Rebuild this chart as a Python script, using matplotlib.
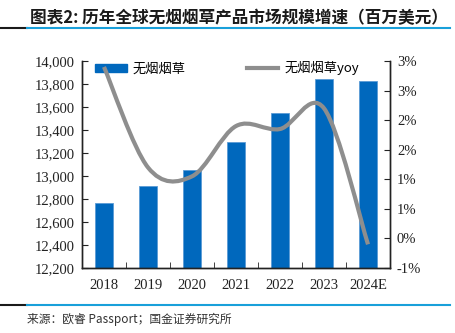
import numpy as np
import matplotlib
matplotlib.use('AGG')
import matplotlib.pyplot as plt
from matplotlib.path import Path
from matplotlib.patches import PathPatch
from matplotlib.lines import Line2D

# 无烟烟草市场规模（百万美元）及增速
years = ['2018', '2019', '2020', '2021', '2022', '2023', '2024E']
market = [12768, 12913, 13052, 13293, 13545, 13841, 13829]
yoy = [2.9, 1.2, 1.05, 1.9, 1.85, 2.2, -0.1]
left_ticks = [12200, 12400, 12600, 12800, 13000, 13200, 13400, 13600, 13800, 14000]
right_ticks = [-0.5, 0.0, 0.5, 1.0, 1.5, 2.0, 2.5, 3.0]
right_labels = ['-1%', '0%', '1%', '1%', '2%', '2%', '3%', '3%']

cjk = ['Noto Sans CJK SC', 'DejaVu Sans']
serif = 'Liberation Serif'
blue = '#0068BD'
gray = '#8E8E8E'

fig = plt.figure(figsize=(4.56, 3.33), dpi=100)
ax = fig.add_axes([82/456, 65/333, 308/456, 207/333])
ax2 = ax.twinx()

x = np.arange(len(years))
ax.bar(x, market, width=0.4, color=blue, edgecolor='#5B9BD5', linewidth=0.6, zorder=2)
ax.set_xlim(-0.5, len(years) - 0.5)
ax.set_ylim(12200, 14000)
ax.set_yticks(left_ticks)
ax.set_yticklabels([f'{v:,}' for v in left_ticks])
ax.set_xticks(x)
ax.set_xticklabels(years)
ax.set_xticks(x[:-1] + 0.5, minor=True)

# smoothed yoy line (cubic bezier through every point)
pts = np.column_stack([x, yoy]).astype(float)
ext = np.vstack([pts[0], pts, pts[-1]])
verts = [tuple(pts[0])]
codes = [Path.MOVETO]
for i in range(len(pts) - 1):
    p0, p1, p2, p3 = ext[i], ext[i + 1], ext[i + 2], ext[i + 3]
    c1 = p1 + (p2 - p0) / 6
    c2 = p2 - (p3 - p1) / 6
    verts += [tuple(c1), tuple(c2), tuple(p2)]
    codes += [Path.CURVE4] * 3
ax2.add_patch(PathPatch(Path(verts, codes), facecolor='none', edgecolor=gray,
                        linewidth=3, capstyle='butt', zorder=3))
ax2.set_ylim(-0.5, 3.0)
ax2.set_yticks(right_ticks)
ax2.set_yticklabels(right_labels)

for a in (ax, ax2):
    a.spines['top'].set_visible(False)
    for s in ('left', 'right', 'bottom'):
        a.spines[s].set_color('#222222')
        a.spines[s].set_linewidth(1.0)
    for lab in a.get_xticklabels() + a.get_yticklabels():
        lab.set_fontfamily(serif)
        lab.set_fontsize(10.5)
        lab.set_color('#222222')
ax.tick_params(axis='y', direction='in', length=4, pad=5, colors='#222222')
ax2.tick_params(axis='y', direction='in', length=4, pad=5, colors='#222222')
ax.tick_params(axis='x', which='major', length=0, pad=8)
ax.tick_params(axis='x', which='minor', direction='in', length=4, color='#222222')

# legend
handles = [plt.Rectangle((0, 0), 1, 1, color=blue),
           Line2D([0], [0], color=gray, lw=3)]
leg = ax.legend(handles, ['无烟烟草', '无烟烟草yoy'], loc='upper left',
                bbox_to_anchor=(0.005, 1.055), ncol=2, frameon=False,
                columnspacing=4.6, handlelength=2.4, handleheight=0.5,
                handletextpad=0.45, prop={'family': cjk, 'size': 9.5})

# title, rules and source
fig.text(30/456, 1 - 18/333, '图表2: 历年全球无烟烟草产品市场规模增速（百万美元）',
         family=cjk, fontsize=12.0, fontweight='bold', color='#1A1A1A', va='center')
fig.add_artist(Line2D([0, 27/456], [1 - 28/333] * 2, color='#1A1A1A', lw=1.5))
fig.add_artist(Line2D([27/456, 450/456], [1 - 28/333] * 2, color='#19A0DA', lw=1.5))
fig.add_artist(Line2D([0, 27/456], [1 - 305/333] * 2, color='#1A1A1A', lw=1.5))
fig.add_artist(Line2D([27/456, 450/456], [1 - 305/333] * 2, color='#19A0DA', lw=1.5))
fig.text(27/456, 1 - 319/333, '来源：欧睿 Passport；国金证券研究所',
         family=cjk, fontsize=8.5, color='#333333', va='center')

fig.savefig('out.png', dpi=100)
